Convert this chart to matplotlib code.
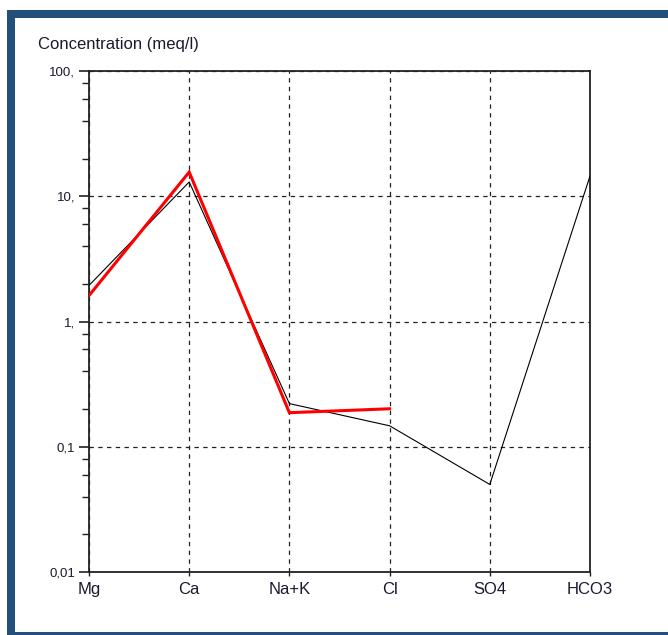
import matplotlib
matplotlib.use("Agg")
import matplotlib.pyplot as plt
from matplotlib.patches import Rectangle
from matplotlib.ticker import LogLocator, FixedLocator, NullFormatter

# Schoeller diagram: ion concentrations in meq/l
ions = ["Mg", "Ca", "Na+K", "Cl", "SO4", "HCO3"]
sample_black = [1.94, 13.0, 0.221, 0.147, 0.05, 14.5]
sample_red = [1.61, 15.6, 0.187, 0.201]

y_ticks = [0.01, 0.1, 1, 10, 100]
y_tick_labels = ["0,01", "0,1", "1,", "10,", "100,"]

W, H = 668, 635
plt.rcParams["font.family"] = ["Liberation Sans", "DejaVu Sans"]

fig = plt.figure(figsize=(W / 100, H / 100), dpi=100)
fig.patch.set_facecolor("white")

# frame around the panel
frame_col = "#23507a"
def px_rect(x0, y0, x1, y1):
    fig.patches.append(Rectangle((x0 / W, 1 - y1 / H), (x1 - x0) / W, (y1 - y0) / H,
                                 transform=fig.transFigure, facecolor=frame_col,
                                 edgecolor="none", zorder=0))
px_rect(7, 10, 15, H)
px_rect(7, 10, W, 18)
px_rect(7, 632, W, H)

ax_l, ax_r, ax_t, ax_b = 89, 590, 71, 572
ax = fig.add_axes([ax_l / W, 1 - ax_b / H, (ax_r - ax_l) / W, (ax_b - ax_t) / H])

x = list(range(len(ions)))
ax.plot(x, sample_black, color="black", lw=0.8, zorder=3)
ax.plot(x[:len(sample_red)], sample_red, color="#ff0000", lw=2.2, zorder=4,
        solid_joinstyle="miter")

ax.set_yscale("log")
ax.set_ylim(0.01, 100)
ax.set_xlim(0, len(ions) - 1)

ax.yaxis.set_major_locator(FixedLocator(y_ticks))
ax.set_yticklabels(y_tick_labels, fontsize=9.5, color="#1a1a2e")
ax.yaxis.set_minor_locator(LogLocator(base=10, subs=[2, 4, 6, 8]))
ax.yaxis.set_minor_formatter(NullFormatter())

ax.set_xticks(x)
ax.set_xticklabels(ions, fontsize=12, color="#1a1a2e")

ax.tick_params(axis="y", which="major", length=7, width=1.2, color="#222222", pad=3)
ax.tick_params(axis="y", which="minor", length=5, width=1.0, color="#222222")
ax.tick_params(axis="x", which="major", length=3, width=1.0, color="#222222", pad=4)

for s in ax.spines.values():
    s.set_color("#222222")
    s.set_linewidth(1.3)

ax.grid(True, which="major", axis="both", color="#222222", linestyle=(0, (3.5, 3.5)),
        linewidth=0.9)
ax.set_axisbelow(True)

fig.text(38 / W, 1 - 44 / H, "Concentration (meq/l)", fontsize=12, color="#1a1a2e",
         ha="left", va="center")

fig.savefig("out.png", dpi=100, facecolor="white")
